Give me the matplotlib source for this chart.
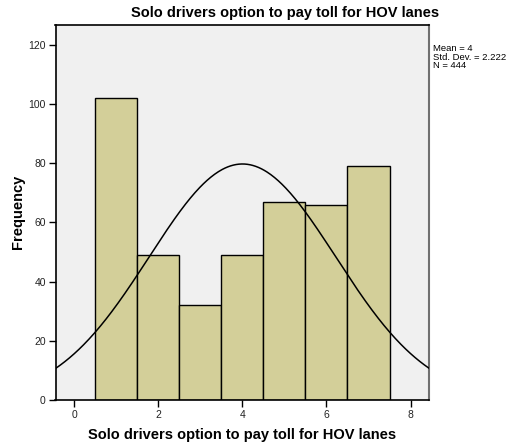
import numpy as np
import matplotlib
matplotlib.use("Agg")
import matplotlib.pyplot as plt

plt.rcParams['font.family'] = ['Liberation Sans', 'DejaVu Sans']

categories = [1, 2, 3, 4, 5, 6, 7]
counts = [102, 49, 32, 49, 67, 66, 79]
mean_val = 4.0
std_val = 2.222
n_val = 444
xticks = [0, 2, 4, 6, 8]
yticks = [0, 20, 40, 60, 80, 100, 120]

W, H = 514, 448
fig = plt.figure(figsize=(W / 100, H / 100), dpi=100)
ax = fig.add_axes([55.5 / W, 1 - 400.3 / H, (429 - 55.5) / W, (400.3 - 25) / H])
ax.set_facecolor('#F0F0F0')

ax.bar(categories, counts, width=1.0, color='#D3CF99', edgecolor='black', linewidth=1.0, zorder=2)

xmin, xmax = -0.45, 8.44
xs = np.linspace(xmin, xmax, 400)
ys = n_val * 1.0 / (std_val * np.sqrt(2 * np.pi)) * np.exp(-0.5 * ((xs - mean_val) / std_val) ** 2)
ax.plot(xs, ys, color='black', linewidth=1.1, zorder=3)

ax.set_xlim(xmin, xmax)
ax.set_ylim(0, 126.6)
ax.set_xticks(xticks)
ax.set_yticks(yticks)
ax.tick_params(axis='both', direction='out', length=5, width=1, labelsize=7.5, colors='black', labelcolor='#222222', pad=2)

for side in ['left', 'bottom', 'top']:
    ax.spines[side].set_color('black')
    ax.spines[side].set_linewidth(1.2)
ax.spines['right'].set_color('#707070')
ax.spines['right'].set_linewidth(1.5)

fig.text(242 / W, 1 - 435 / H, 'Solo drivers option to pay toll for HOV lanes', ha='center', va='center',
         fontsize=10.5, fontweight='bold')
fig.text(18 / W, 1 - 212 / H, 'Frequency', ha='center', va='center', rotation=90,
         fontsize=10.5, fontweight='bold')

fig.text(285 / W, 1 - 13 / H, 'Solo drivers option to pay toll for HOV lanes', ha='center', va='center',
         fontsize=10.5, fontweight='bold')

fig.text(433 / W, 1 - 44 / H, 'Mean = 4\nStd. Dev. = 2.222\nN = 444', ha='left', va='top',
         fontsize=6.8, linespacing=0.95, family=['Liberation Sans Narrow', 'Liberation Sans', 'DejaVu Sans'])

fig.savefig('out.png', dpi=100)
